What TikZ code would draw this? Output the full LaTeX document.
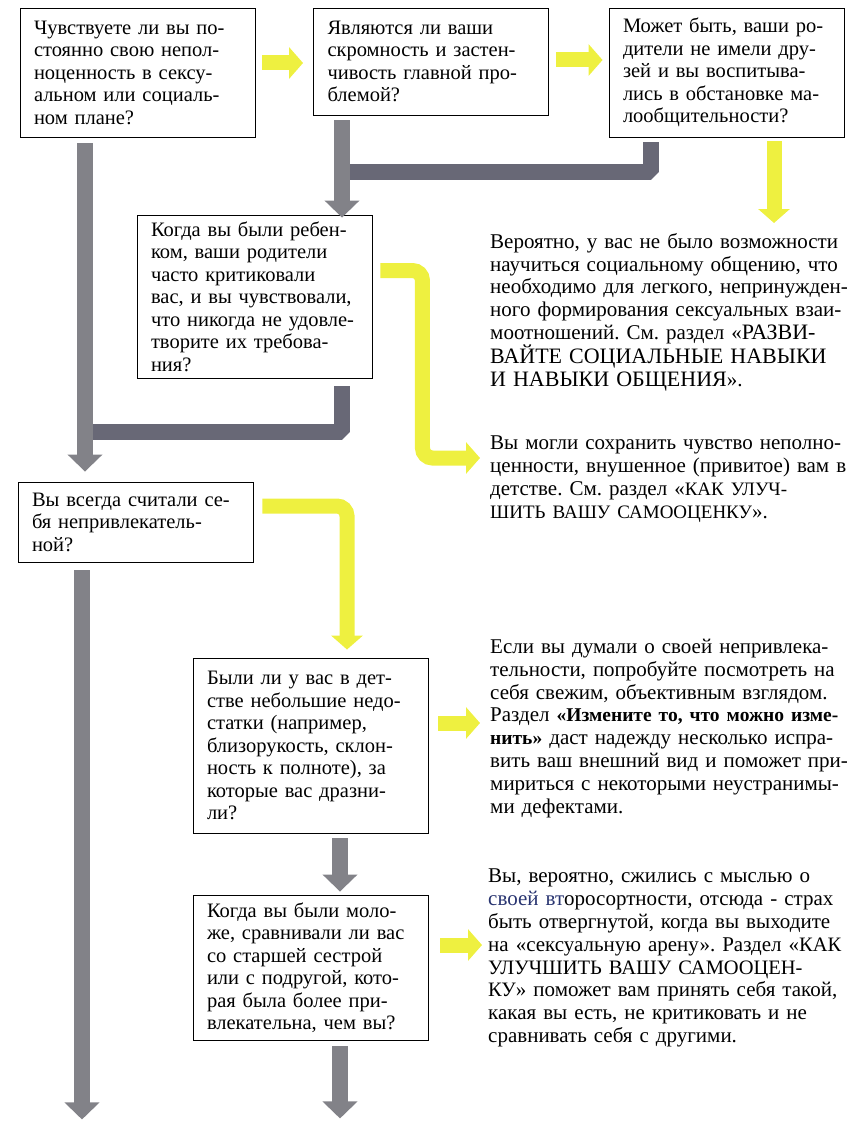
\documentclass[tikz,border=0pt]{standalone}
\usepackage{fontspec}
\setmainfont{Liberation Serif}
\usetikzlibrary{arrows.meta,calc}
\definecolor{arrowgray}{RGB}{130,130,136}
\definecolor{bargray}{RGB}{104,104,118}
\definecolor{arrowyellow}{RGB}{238,240,64}
\definecolor{scanblue}{RGB}{40,52,112}
\newcommand{\boxfont}{\fontsize{20.5}{22.5}\selectfont\frenchspacing}
\newcommand{\notefont}{\fontsize{21}{22.8}\selectfont\frenchspacing}
\newcommand{\capsat}[2]{{\fontsize{#1}{22.8}\selectfont #2}}

\begin{document}
\begin{tikzpicture}[x=1pt,y=-1pt,
  qbox/.style={draw, line width=0.9pt, align=left, inner xsep=14pt,
    text width=207pt, font=\boxfont},
  note/.style={anchor=north west, align=left, inner sep=0pt,
    text width=372pt, font=\notefont},
  grayarrow/.style={draw=arrowgray, line width=16pt,
    -{Triangle[width=34pt,length=17pt]}},
  graybar/.style={draw=bargray, line width=16pt, line join=bevel},
  yelarrow/.style={draw=arrowyellow, line width=15pt, rounded corners=10pt,
    -{Triangle[width=31pt,length=14pt]}}]
  \useasboundingbox (0,0) rectangle (856,1121);

  % Question boxes
  \node[qbox, minimum height=129pt] (feel) at (137.5,72.5)
    {Чувствуете ли вы по-\\стоянно свою непол-\\ноценность в сексу-\\альном или социаль-\\ном плане?};
  \node[qbox, minimum height=107pt] (shy) at (431,61.5)
    {Являются ли ваши\\скромность и застен-\\чивость главной про-\\блемой?};
  \node[qbox, minimum height=129pt] (friends) at (726.5,72.5)
    {Может быть, ваши ро-\\дители не имели дру-\\зей и вы воспитыва-\\лись в обстановке ма-\\лообщительности?};
  \node[qbox, minimum height=163pt] (critic) at (254.5,296.5)
    {Когда вы были ребен-\\ком, ваши родители\\часто критиковали\\вас, и вы чувствовали,\\что никогда не удовле-\\творите их требова-\\ния?};
  \node[qbox, minimum height=80pt] (ugly) at (135.5,522)
    {Вы всегда считали се-\\бя непривлекатель-\\ной?};
  \node[qbox, minimum height=175pt] (teased) at (310.5,745.5)
    {Были ли у вас в дет-\\стве небольшие недо-\\статки (например,\\близорукость, склон-\\ность к полноте), за\\которые вас дразни-\\ли?};
  \node[qbox, minimum height=145pt] (sister) at (310.5,967.5)
    {Когда вы были моло-\\же, сравнивали ли вас\\со старшей сестрой\\или с подругой, кото-\\рая была более при-\\влекательна, чем вы?};

  % Answers
  \node[note] (social) at (490,233)
    {Вероятно, у вас не было возможности\\научиться социальному общению, что\\необходимо для легкого, непринужден-\\ного формирования сексуальных взаи-\\моотношений. См. раздел «\capsat{22}{РАЗВИ-}\\\capsat{22}{ВАЙТЕ СОЦИАЛЬНЫЕ НАВЫКИ}\\\capsat{22}{И НАВЫКИ ОБЩЕНИЯ}».};
  \node[note] (child) at (490,436)
    {Вы могли сохранить чувство неполно-\\ценности, внушенное (привитое) вам в\\детстве. См. раздел «\capsat{19}{КАК УЛУЧ-}\\\capsat{19}{ШИТЬ ВАШУ САМООЦЕНКУ}».};
  \node[note] (change) at (490,639)
    {Если вы думали о своей непривлека-\\тельности, попробуйте посмотреть на\\себя свежим, объективным взглядом.\\Раздел \capsat{19.5}{\textbf{«Измените то, что можно изме-}}\\\capsat{19.5}{\textbf{нить»}} даст надежду несколько испра-\\вить ваш внешний вид и поможет при-\\мириться с некоторыми неустранимы-\\ми дефектами.};
  \node[note] (second) at (488,869)
    {Вы, вероятно, сжились с мыслью о\\\textcolor{scanblue}{своей вт}оросортности, отсюда - страх\\быть отвергнутой, когда вы выходите\\на «сексуальную арену». Раздел «\capsat{20.5}{КАК}\\\capsat{20.5}{УЛУЧШИТЬ ВАШУ САМООЦЕН-}\\\capsat{20.5}{КУ}» поможет вам принять себя такой,\\какая вы есть, не критиковать и не\\сравнивать себя с другими.};

  % Gray side bars
  \draw[graybar] ($(friends.south)+(-75.5,5)$) -- ++(0,30) -- ($(shy.south)+(-89,57)$);
  \draw[graybar] ($(critic.south)+(87.5,8)$) -- ++(0,46) -- ($(feel.south)+(-52.5,295)$);

  % Gray arrows
  \draw[grayarrow] ($(feel.south)+(-52.5,6)$) -- ($(ugly.north)+(-50.5,-10)$);
  \draw[grayarrow] ($(shy.south)+(-89,5)$) -- ($(critic.north)+(87.5,3)$);
  \draw[grayarrow] ($(ugly.south)+(-53.5,8)$) -- ++(0,549);
  \draw[grayarrow] ($(teased.south)+(29.5,5)$) -- ($(sister.north)+(29.5,-3)$);
  \draw[grayarrow] ($(sister.south)+(29.5,6)$) -- ++(0,72);

  % Yellow arrows
  \draw[yelarrow] ($(feel.east)+(7,-9.5)$) -- ($(shy.west)+(-10,1.5)$);
  \draw[yelarrow] ($(shy.east)+(7,-1.5)$) -- ($(friends.west)+(-6,-12.5)$);
  \draw[yelarrow] ($(friends.south)+(47.5,4)$) -- ($(social.north west)+(284,-10)$);
  \draw[yelarrow] ($(critic.east)+(8,-26)$) -- ++(42,0) |- ($(child.north west)+(-10,22)$);
  \draw[yelarrow] ($(ugly.east)+(9,-16)$) -| ($(teased.north)+(36.5,-8)$);
  \draw[yelarrow] ($(teased.east)+(10,-22.5)$) -- ($(change.north west)+(-10,84)$);
  \draw[yelarrow] ($(sister.east)+(12,-22.5)$) -- ($(second.north west)+(-6,76)$);
\end{tikzpicture}
\end{document}
